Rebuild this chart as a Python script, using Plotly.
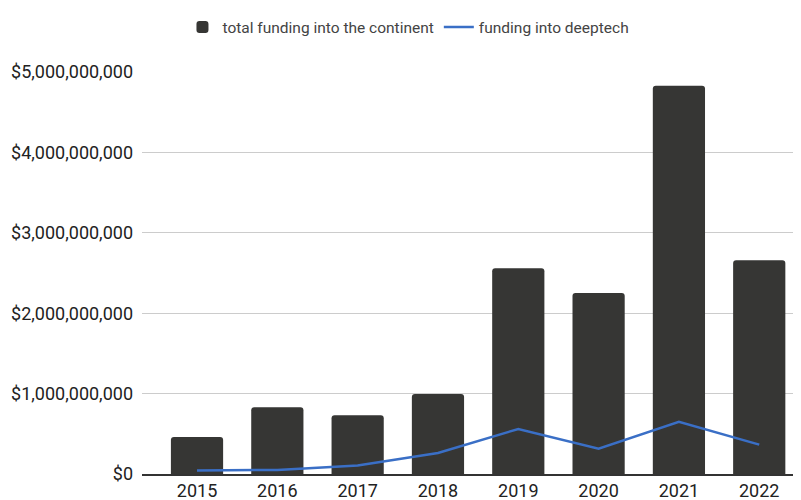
import plotly.graph_objects as go

years = ["2015", "2016", "2017", "2018", "2019", "2020", "2021", "2022"]
total_funding = [460e6, 830e6, 730e6, 995e6, 2560e6, 2250e6, 4830e6, 2660e6]
deeptech_funding = [45e6, 50e6, 105e6, 262e6, 560e6, 315e6, 650e6, 365e6]

fig = go.Figure()
fig.add_trace(go.Bar(
    x=years, y=total_funding, name="total funding into the continent",
    marker=dict(color="#363634", line=dict(width=0), cornerradius=3),
))
fig.add_trace(go.Scatter(
    x=years, y=deeptech_funding, name="funding into deeptech", mode="lines",
    line=dict(color="#3a6fc6", width=2.5),
))

fig.update_layout(
    width=793, height=492,
    margin=dict(l=134, r=0, t=64, b=26, autoexpand=False),
    paper_bgcolor="white", plot_bgcolor="white",
    font=dict(family="Roboto", size=16, color="#222222"),
    bargap=0.35,
    showlegend=True,
    legend=dict(orientation="h", x=0.505, xref="container", xanchor="center",
                y=0.995, yref="container", yanchor="top",
                font=dict(size=15.5, color="#444444"),
                traceorder="normal", itemwidth=30),
    xaxis=dict(type="category", range=[-0.685, 7.52], showgrid=False,
               showline=True, linecolor="#333333", linewidth=1.5,
               ticks="", tickfont=dict(size=18, color="#222222")),
    yaxis=dict(range=[0, 5e9], tickvals=[0, 1e9, 2e9, 3e9, 4e9, 5e9],
               tickformat="$,.0f", showgrid=True, gridcolor="#cccccc",
               zeroline=False, ticks="", ticklabelstandoff=8,
               tickfont=dict(size=18, color="#222222")),
)

fig.write_html("out.html")
